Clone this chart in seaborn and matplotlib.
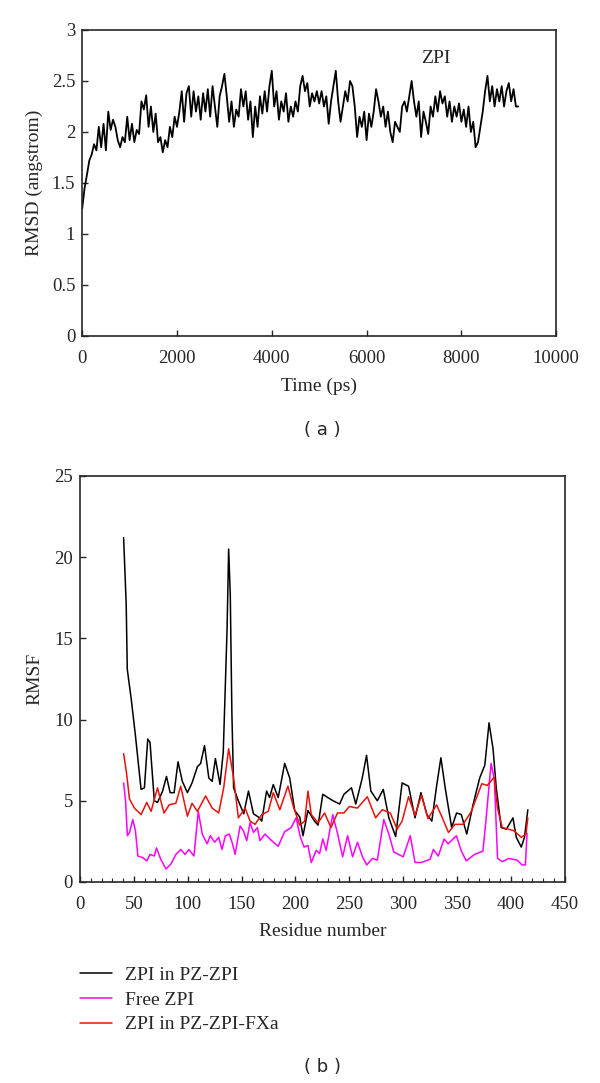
import numpy as np
import pandas as pd
import matplotlib
matplotlib.use("Agg")
import matplotlib.pyplot as plt
import seaborn as sns

# (a) RMSD of ZPI, sampled every 50 ps from 0 to 9200 ps
time_ps = np.arange(0, 9201, 50)
rmsd = [
    1.25, 1.45, 1.58, 1.72, 1.78, 1.88, 1.82, 2.05, 1.85, 2.08,
    1.82, 2.20, 2.02, 2.12, 2.05, 1.92, 1.85, 1.95, 1.90, 2.15,
    1.92, 2.08, 1.90, 2.02, 1.98, 2.30, 2.22, 2.36, 2.05, 2.25,
    2.00, 2.18, 1.90, 1.95, 1.80, 1.92, 1.85, 2.05, 1.95, 2.15,
    2.05, 2.20, 2.40, 2.10, 2.38, 2.45, 2.15, 2.40, 2.20, 2.35,
    2.12, 2.38, 2.20, 2.42, 2.15, 2.45, 2.25, 2.05, 2.35, 2.45,
    2.57, 2.35, 2.10, 2.30, 2.05, 2.22, 2.15, 2.42, 2.25, 2.40,
    2.12, 2.30, 1.95, 2.25, 2.05, 2.35, 2.18, 2.40, 2.20, 2.45,
    2.60, 2.25, 2.40, 2.12, 2.30, 2.20, 2.38, 2.10, 2.25, 2.15,
    2.30, 2.20, 2.45, 2.55, 2.40, 2.48, 2.25, 2.38, 2.30, 2.40,
    2.28, 2.40, 2.25, 2.35, 2.08, 2.30, 2.45, 2.60, 2.30, 2.10,
    2.25, 2.40, 2.30, 2.50, 2.45, 2.25, 1.95, 2.15, 2.05, 2.20,
    1.92, 2.18, 2.05, 2.20, 2.42, 2.30, 2.15, 2.25, 2.05, 2.20,
    2.00, 1.90, 2.10, 2.05, 2.00, 2.25, 2.30, 2.20, 2.35, 2.50,
    2.30, 2.15, 2.30, 1.95, 2.20, 2.10, 1.98, 2.25, 2.15, 2.35,
    2.20, 2.40, 2.28, 2.35, 2.15, 2.30, 2.10, 2.25, 2.15, 2.28,
    2.10, 2.22, 2.05, 2.25, 2.00, 2.10, 1.85, 1.90, 2.05, 2.20,
    2.40, 2.55, 2.30, 2.45, 2.25, 2.42, 2.30, 2.45, 2.25, 2.40,
    2.48, 2.30, 2.42, 2.25, 2.25,
]

# (b) RMSF per residue
res_pz = [40.5, 42.9, 43.9, 47.5, 51.5, 56.7, 59.8, 62.9, 65, 69, 72, 76.7, 80.3, 83.7,
          87.4, 91, 95, 99.7, 104, 109, 112, 115.6, 119.6, 122.7, 125.7, 130, 133, 136.5,
          138, 139.5, 141, 142.6, 147, 152, 156.4, 161, 165.6, 168.7, 173.2, 176, 179.4,
          184, 190, 194.7, 199.3, 204, 207, 211.6, 217.7, 221, 225.4, 230, 235, 241, 245,
          252, 256, 262, 266, 270, 276, 281.5, 286.7, 293, 299, 305, 311, 316.5, 322,
          326.6, 331, 335, 339, 345, 349.6, 354, 359, 365, 371, 375.8, 379.7, 383.4,
          386.4, 391, 395.8, 401.9, 405, 409.6, 412.6, 415.7]
rmsf_pz = [21.2, 17.1, 13.1, 11.3, 9.0, 5.7, 5.8, 8.8, 8.6, 5.0, 4.9, 5.6, 6.5, 5.5,
           5.5, 7.4, 6.2, 5.5, 6.1, 7.1, 7.3, 8.4, 6.4, 6.2, 7.6, 6.0, 8.0, 15.5,
           20.5, 17.7, 10.4, 5.8, 5.0, 4.2, 5.6, 4.2, 4.0, 3.75, 5.6, 5.2, 6.0,
           5.2, 7.3, 6.4, 4.4, 4.0, 2.85, 4.4, 3.75, 3.5, 5.4, 5.2, 5.0, 4.8, 5.4,
           5.8, 4.8, 6.4, 7.8, 5.6, 5.0, 5.7, 3.95, 2.8, 6.1, 5.9, 3.95, 5.5, 4.15,
           3.75, 5.9, 7.65, 5.8, 3.35, 4.25, 4.15, 2.95, 4.8, 6.4, 7.2, 9.8, 8.2,
           5.8, 3.35, 3.25, 3.95, 2.75, 2.15, 2.75, 4.45]

res_free = [40.5, 42.3, 44, 46, 49, 51.5, 53.7, 58.3, 62, 65, 69, 71, 75, 79.8, 84.4,
            89, 93.5, 97.5, 101, 105.8, 109.8, 113.5, 118, 121, 125, 128.8, 131.8, 135,
            138.6, 141.6, 144, 148.6, 151.7, 154.8, 157.9, 161, 164.7, 167, 171.7,
            177.8, 184, 190, 196, 200.6, 204.6, 208, 211.6, 214.7, 219.3, 222.4, 225.4,
            228.5, 234.6, 239.2, 243.8, 248.4, 253, 257.6, 262.2, 266.2, 271.4, 276,
            282, 286.7, 291.3, 300, 306.6, 311, 317, 325, 328, 332.6, 338, 341.7,
            349.4, 354, 358.6, 366.3, 374, 376.4, 381.6, 384.6, 387.6, 392, 398, 405.7,
            410.3, 413.4, 415]
rmsf_free = [6.1, 5.0, 2.85, 3.05, 3.85, 3.15, 1.6, 1.5, 1.3, 1.7, 1.6, 2.1, 1.4, 0.8, 1.1,
             1.7, 2.0, 1.7, 2.0, 1.6, 4.35, 2.95, 2.35, 2.85, 2.45, 2.75, 2.0, 2.85,
             2.95, 2.35, 1.7, 3.45, 3.15, 2.55, 3.65, 3.05, 3.35, 2.55, 2.95,
             2.55, 2.2, 3.1, 3.35, 3.95, 2.75, 2.15, 2.25, 1.2, 1.95, 1.75, 2.65,
             1.95, 4.15, 2.95, 1.55, 2.85, 1.55, 2.45, 1.55, 1.05, 1.45, 1.35,
             3.85, 2.95, 1.85, 1.55, 2.85, 1.2, 1.2, 1.4, 2.0, 1.6, 2.65, 2.35,
             2.85, 1.9, 1.3, 1.7, 1.9, 3.5, 7.3, 6.35, 1.45, 1.25, 1.45, 1.35,
             1.05, 1.05, 3.0]

res_fxa = [40.5, 43, 46, 50.6, 56.7, 62, 66, 72, 75, 78, 82.8, 89, 93.5, 99.7, 104, 109,
           116.6, 122.7, 128.8, 133.4, 138, 142.6, 147, 153.3, 157.9, 162.5, 168.7,
           174.8, 179.4, 185.5, 193, 197.8, 204, 208.6, 211.6, 214.7, 221, 227, 233,
           239, 245, 250, 257.5, 266.7, 274.4, 280.5, 288, 294.4, 299, 305, 311, 317,
           323, 331, 337, 342, 348, 355.6, 363.3, 369, 373, 378, 384.5, 387.5, 392,
           398, 403, 409.6, 414, 415.7]
rmsf_fxa = [7.9, 6.8, 5.1, 4.55, 4.15, 4.9, 4.35, 5.8, 5.0, 4.25, 4.75, 4.85, 5.9, 4.05,
            4.85, 4.35, 5.3, 4.55, 4.25, 5.8, 8.2, 6.4, 3.95, 4.55, 3.75, 3.55, 4.15,
            4.35, 5.5, 4.45, 5.9, 4.7, 3.5, 3.75, 5.6, 4.15, 3.65, 4.25, 3.35,
            4.25, 4.25, 4.65, 4.55, 5.25, 3.95, 4.45, 4.25, 3.25, 3.75, 5.25, 4.1, 5.35,
            3.9, 4.75, 3.85, 3.05, 3.55, 3.55, 4.35, 5.35, 6.05, 5.95, 6.45, 4.55, 3.35,
            3.25, 3.15, 2.75, 2.95, 3.95]

labels = ["ZPI in PZ-ZPI", "Free ZPI", "ZPI in PZ-ZPI-FXa"]
colors = ["#000000", "#ff00ff", "#e8120c"]

sns.set_style("ticks")
plt.rcParams["font.family"] = ["Liberation Serif", "DejaVu Serif"]
plt.rcParams["xtick.direction"] = "in"
plt.rcParams["ytick.direction"] = "in"

fig = plt.figure(figsize=(6, 10.83), dpi=100)

# ---- panel (a)
ax1 = fig.add_axes([0.137, 0.6898, 0.79, 0.2825])
df_a = pd.DataFrame({"time": time_ps, "rmsd": rmsd})
sns.lineplot(data=df_a, x="time", y="rmsd", ax=ax1, color="black", linewidth=1.3)
ax1.set_xlim(0, 10000)
ax1.set_ylim(0, 3)
ax1.set_xticks(range(0, 10001, 2000))
ax1.set_yticks(np.arange(0, 3.01, 0.5))
ax1.set_yticklabels(["0", "0.5", "1", "1.5", "2", "2.5", "3"])
ax1.set_xlabel("Time (ps)", fontsize=14, labelpad=7.5)
ax1.set_ylabel("RMSD (angstrom)", fontsize=14, labelpad=6)
ax1.tick_params(labelsize=13.5, length=4, width=1, pad=5)
ax1.tick_params(axis="x", pad=10)
ax1.text(7450, 2.72, "ZPI", ha="center", va="center", fontsize=14)
for s in ax1.spines.values():
    s.set_linewidth(1.2)

# ---- panel (b)
ax2 = fig.add_axes([0.1333, 0.1856, 0.808, 0.3749])
df_b = pd.concat([
    pd.DataFrame({"residue": res_pz, "rmsf": rmsf_pz, "series": labels[0]}),
    pd.DataFrame({"residue": res_free, "rmsf": rmsf_free, "series": labels[1]}),
    pd.DataFrame({"residue": res_fxa, "rmsf": rmsf_fxa, "series": labels[2]}),
])
sns.lineplot(data=df_b, x="residue", y="rmsf", hue="series", hue_order=labels,
             palette=colors, sort=False, estimator=None, linewidth=1.1, ax=ax2)
ax2.set_xlim(0, 450)
ax2.set_ylim(0, 25)
ax2.set_xticks(range(0, 451, 50))
ax2.set_xticks(range(0, 451, 10), minor=True)
ax2.set_yticks(range(0, 26, 5))
ax2.set_xlabel("Residue number", fontsize=14, labelpad=7.5)
ax2.set_ylabel("RMSF", fontsize=14, labelpad=8)
ax2.tick_params(labelsize=13.5, length=4, width=1, pad=5)
ax2.tick_params(axis="x", pad=10)
ax2.tick_params(which="minor", length=3, width=0.8)
for s in ax2.spines.values():
    s.set_linewidth(1.2)

ax2.legend(loc="upper left", bbox_to_anchor=(0.133, 0.1075), bbox_transform=fig.transFigure,
           frameon=False, fontsize=14, handlelength=1.65, handletextpad=0.7,
           labelspacing=0.36, borderpad=0, borderaxespad=0)

fig.text(0.538, 0.603, "( a )", ha="center", va="center", fontsize=13, family="DejaVu Sans")
fig.text(0.538, 0.0148, "( b )", ha="center", va="center", fontsize=13, family="DejaVu Sans")

fig.savefig("out.png", dpi=100)
